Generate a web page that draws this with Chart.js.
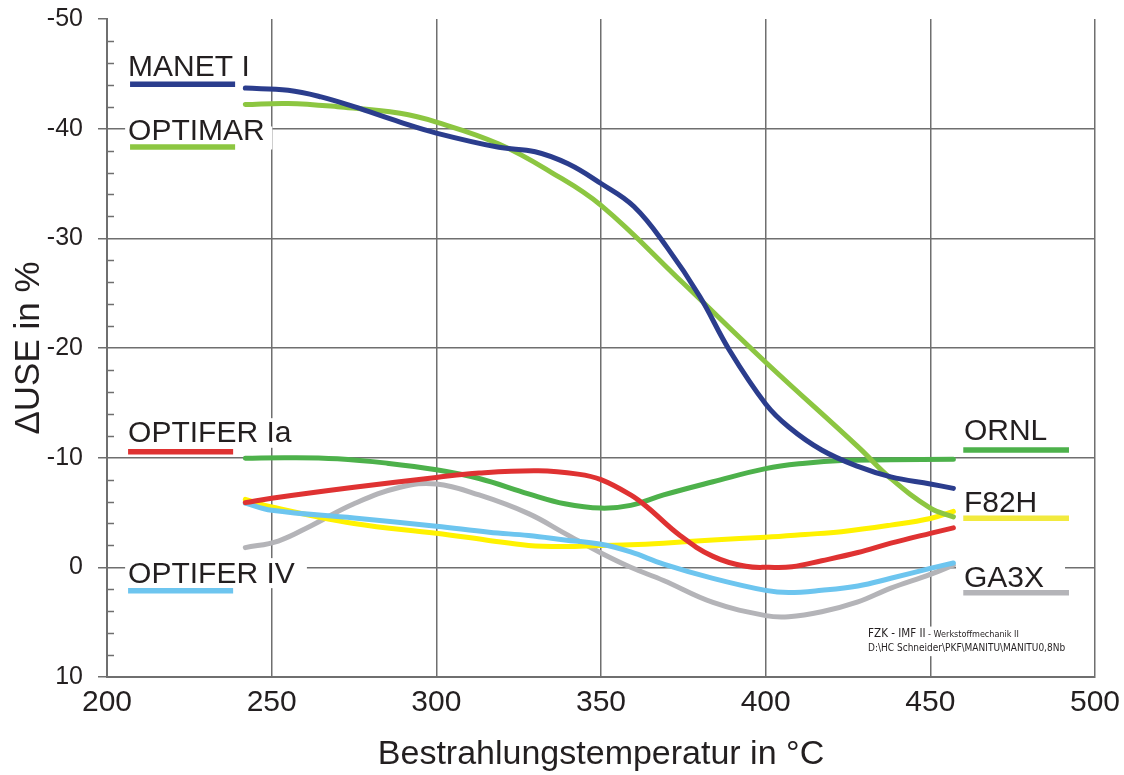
<!DOCTYPE html>
<html>
<head>
<meta charset="utf-8">
<script src="https://cdn.jsdelivr.net/npm/chart.js@4.4.1/dist/chart.umd.min.js"></script>
<style>
html, body { margin: 0; padding: 0; background: #fff; }
#chart { display: block; }
</style>
</head>
<body>
<canvas id="chart" width="1124" height="775"></canvas>
<script>
// values (temperature in °C, change of USE in %)
const manetT = [242, 255, 265, 275, 289, 300, 319, 330, 340, 350, 360, 370, 380, 389, 400, 407, 417, 428, 438, 450, 457];
const manetV = [-43.7, -43.5, -42.9, -42.0, -40.6, -39.6, -38.3, -37.9, -36.8, -35.0, -32.9, -29.2, -24.7, -19.8, -14.9, -12.8, -10.7, -9.2, -8.25, -7.6, -7.2];

const optimarT = [242, 255, 270, 289, 300, 319, 335, 350, 375, 400, 428, 438, 450, 457];
const optimarV = [-42.2, -42.3, -42.0, -41.4, -40.6, -38.6, -36.0, -33.0, -25.9, -18.7, -11.0, -8.1, -5.4, -4.6];

const ornlT = [242, 255, 270, 285, 300, 313, 328, 339, 350, 359, 369, 384, 400, 412, 423, 438, 457];
const ornlV = [-9.95, -10.0, -9.9, -9.5, -8.9, -8.1, -6.7, -5.8, -5.4, -5.65, -6.6, -7.8, -9.0, -9.5, -9.75, -9.8, -9.85];

const optiferIaT = [242, 250, 275, 300, 313, 331, 343, 350, 359, 364, 374, 384, 394, 401, 408, 417, 428, 438, 450, 457];
const optiferIaV = [-5.9, -6.3, -7.3, -8.2, -8.6, -8.8, -8.5, -8.0, -6.6, -5.5, -2.9, -1.0, -0.1, 0.0, -0.05, -0.6, -1.35, -2.2, -3.1, -3.6];

const f82hT = [242, 250, 275, 300, 315, 328, 339, 350, 359, 369, 384, 400, 412, 423, 438, 450, 457];
const f82hV = [-6.2, -5.5, -4.0, -3.1, -2.5, -2.0, -1.9, -2.0, -2.05, -2.2, -2.5, -2.75, -3.0, -3.25, -3.85, -4.45, -5.1];

const optiferIVT = [242, 250, 275, 300, 316, 328, 339, 350, 359, 369, 384, 400, 407, 417, 428, 438, 450, 457];
const optiferIVV = [-5.85, -5.2, -4.5, -3.75, -3.2, -2.9, -2.5, -2.1, -1.4, -0.3, 1.0, 2.1, 2.3, 2.1, 1.7, 1.0, 0.1, -0.4];

const ga3xT = [242, 252, 262, 275, 289, 300, 313, 328, 339, 350, 359, 369, 384, 400, 407, 417, 428, 438, 450, 457];
const ga3xV = [-1.8, -2.4, -3.8, -5.8, -7.3, -7.6, -6.6, -4.9, -3.1, -1.3, 0.0, 1.2, 3.2, 4.4, 4.5, 4.05, 3.15, 1.9, 0.65, -0.2];

const seriesNames = ['MANET I', 'OPTIMAR', 'OPTIFER Ia', 'ORNL', 'OPTIFER IV', 'F82H', 'GA3X'];

const xTitle = 'Bestrahlungstemperatur in °C';
const yTitle = 'ΔUSE in %';
const noteLine1a = 'FZK - IMF II';
const noteLine1b = ' - Werkstoffmechanik II';
const noteLine2 = 'D:\\HC Schneider\\PKF\\MANITU\\MANITU0,8Nb';

const colors = {
    'MANET I': '#2b3d8d',
    'OPTIMAR': '#8cc641',
    'OPTIFER Ia': '#df3232',
    'ORNL': '#4db14b',
    'OPTIFER IV': '#6dc5ef',
    'F82H': '#fff200',
    'GA3X': '#b4b4b8'
};

// where the name labels sit, in axis units
const labelLayout = [
    { name: 'MANET I', tx: 206.4, ty: -44.8, x1: 207, x2: 238.9, ly: -44.05 },
    { name: 'OPTIMAR', tx: 206.4, ty: -39.0, x1: 207, x2: 238.9, ly: -38.33, box: [205.5, -40.2, 250.2, -38.1] },
    { name: 'OPTIFER Ia', tx: 206.4, ty: -11.44, x1: 206.4, x2: 238.3, ly: -10.53, box: [205.5, -13.6, 257.4, -10.9] },
    { name: 'OPTIFER IV', tx: 206.4, ty: 1.44, x1: 206.4, x2: 238.3, ly: 2.14, box: [205.5, -0.84, 260.7, 1.9] },
    { name: 'ORNL', tx: 460.2, ty: -11.6, x1: 460, x2: 492.1, ly: -10.71 },
    { name: 'F82H', tx: 460.2, ty: -5.08, x1: 460, x2: 492.1, ly: -4.48, lineColor: '#f2ea3e' },
    { name: 'GA3X', tx: 460.2, ty: 1.79, x1: 460, x2: 492.1, ly: 2.32, box: [457.8, -0.66, 490.9, 2.07] }
];
const noteLayout = { tx: 431.1, ty1: 6.33, ty2: 7.64, box: [430.2, 5.4, 488.8, 8.1] };

const gridGray = '#6f6f6f';
const textColor = '#231f20';
const fontFamily = '"Liberation Sans", Arial, sans-serif';
const narrowFamily = '"Liberation Sans Narrow", "DejaVu Sans Condensed", sans-serif';

function points(ts, vs) {
    return ts.map((t, i) => ({ x: t, y: vs[i] }));
}

function makeSet(name, ts, vs) {
    return {
        label: name,
        data: points(ts, vs),
        borderColor: colors[name],
        borderWidth: 5,
        borderCapStyle: 'round',
        borderJoinStyle: 'round',
        pointRadius: 0,
        fill: false,
        tension: 0.4
    };
}

const labelsPlugin = {
    id: 'materialLabels',
    beforeDatasetsDraw(chart) {
        const ctx = chart.ctx;
        const xs = chart.scales.x;
        const ys = chart.scales.y;
        const px = v => xs.getPixelForValue(v);
        const py = v => ys.getPixelForValue(v);

        // minor ticks on the y axis, inside the plot
        ctx.save();
        ctx.strokeStyle = gridGray;
        ctx.lineWidth = 1.5;
        for (let v = ys.min + 2; v < ys.max; v += 2) {
            if (v % 10 === 0) continue;
            const y = Math.round(py(v)) + 0.5;
            ctx.beginPath();
            ctx.moveTo(chart.chartArea.left, y);
            ctx.lineTo(chart.chartArea.left + 7, y);
            ctx.stroke();
        }

        // white boxes that hide the grid behind the texts
        ctx.fillStyle = '#ffffff';
        labelLayout.forEach(l => {
            if (!l.box) return;
            const [a, b, c, d] = l.box;
            ctx.fillRect(px(a), py(b), px(c) - px(a), py(d) - py(b));
        });
        const nb = noteLayout.box;
        ctx.fillRect(px(nb[0]), py(nb[1]), px(nb[2]) - px(nb[0]), py(nb[3]) - py(nb[1]));

        // name + colour bar
        labelLayout.forEach(l => {
            ctx.font = '30px ' + fontFamily;
            ctx.fillStyle = textColor;
            ctx.textBaseline = 'alphabetic';
            ctx.textAlign = 'left';
            ctx.fillText(l.name, px(l.tx), py(l.ty));

            ctx.strokeStyle = l.lineColor || colors[l.name];
            ctx.lineWidth = 5.5;
            ctx.lineCap = 'butt';
            ctx.beginPath();
            ctx.moveTo(px(l.x1), py(l.ly));
            ctx.lineTo(px(l.x2), py(l.ly));
            ctx.stroke();
        });

        // small note bottom right
        ctx.fillStyle = textColor;
        ctx.font = '11.5px ' + narrowFamily;
        const nx = px(noteLayout.tx);
        ctx.fillText(noteLine1a, nx, py(noteLayout.ty1));
        const w = ctx.measureText(noteLine1a).width;
        ctx.font = '9px ' + narrowFamily;
        ctx.fillText(noteLine1b, nx + w, py(noteLayout.ty1));
        ctx.font = '10px ' + narrowFamily;
        ctx.fillText(noteLine2, nx, py(noteLayout.ty2));
        ctx.restore();
    }
};

const chart = new Chart(document.getElementById('chart'), {
    type: 'line',
    data: {
        datasets: [
            makeSet('MANET I', manetT, manetV),
            makeSet('OPTIMAR', optimarT, optimarV),
            makeSet('OPTIFER Ia', optiferIaT, optiferIaV),
            makeSet('ORNL', ornlT, ornlV),
            makeSet('OPTIFER IV', optiferIVT, optiferIVV),
            makeSet('F82H', f82hT, f82hV),
            makeSet('GA3X', ga3xT, ga3xV)
        ]
    },
    options: {
        responsive: false,
        animation: false,
        layout: { padding: { top: 19, right: 29, bottom: 0, left: 0 } },
        plugins: {
            legend: { display: false },
            tooltip: { enabled: false }
        },
        scales: {
            x: {
                type: 'linear',
                min: 200,
                max: 500,
                afterFit(scale) {
                    scale.height = 98;
                    scale.paddingLeft = 0;
                    scale.paddingRight = 0;
                },
                ticks: {
                    stepSize: 50,
                    padding: 8,
                    color: textColor,
                    font: { size: 30, family: fontFamily }
                },
                grid: {
                    color: gridGray,
                    lineWidth: 1.5,
                    drawTicks: false
                },
                border: { color: gridGray, width: 2 },
                title: {
                    display: true,
                    text: xTitle,
                    color: textColor,
                    font: { size: 34, family: fontFamily },
                    padding: { top: 0, bottom: 0 }
                }
            },
            y: {
                type: 'linear',
                min: -50,
                max: 10,
                reverse: true,
                afterFit(scale) {
                    scale.width = 107;
                    scale.paddingTop = 0;
                    scale.paddingBottom = 0;
                },
                ticks: {
                    stepSize: 10,
                    padding: 15,
                    color: textColor,
                    font: { size: 25, family: fontFamily }
                },
                grid: {
                    color: c => (c.tick && c.tick.value === -50) ? 'rgba(0,0,0,0)' : gridGray,
                    tickColor: gridGray,
                    lineWidth: 1.5,
                    tickLength: 9
                },
                border: { color: gridGray, width: 2 },
                title: {
                    display: true,
                    text: yTitle,
                    color: textColor,
                    font: { size: 35, family: fontFamily },
                    padding: { top: 8, bottom: 0 }
                }
            }
        }
    },
    plugins: [labelsPlugin]
});
</script>
</body>
</html>
